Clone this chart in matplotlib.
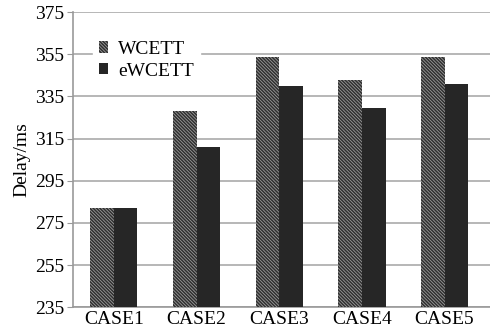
import numpy as np
import matplotlib.pyplot as plt

plt.rcParams['font.family'] = ['Liberation Serif', 'DejaVu Serif']
plt.rcParams['hatch.linewidth'] = 0.6

cases = ['CASE1', 'CASE2', 'CASE3', 'CASE4', 'CASE5']
wcett = [282, 328, 353.5, 343, 353.5]
ewcett = [282, 311, 340, 329.5, 341]
yticks = [235, 255, 275, 295, 315, 335, 355, 375]

fig = plt.figure(figsize=(4.9, 3.35), dpi=100)
ax = fig.add_axes([0.148, 0.083, 0.852, 0.881])

x = np.arange(len(cases))
w = 0.286
b1 = ax.bar(x - w / 2, wcett, w, color='#2e2e2e', edgecolor='#9a9a9a',
            hatch='\\' * 10, linewidth=0, label='WCETT', zorder=3)
b2 = ax.bar(x + w / 2, ewcett, w, color='#262626', linewidth=0,
            label='eWCETT', zorder=3)

ax.set_ylim(235, 375)
ax.set_xlim(-0.5, 4.55)
ax.set_yticks(yticks)
ax.set_xticks(x)
ax.set_xticklabels(cases)
ax.tick_params(axis='both', labelsize=14, color='#999999', length=4, pad=2)
ax.tick_params(axis='x', length=0, pad=3)
ax.grid(axis='y', color='#aaaaaa', linewidth=1.2, zorder=0)
for s in ['top', 'right']:
    ax.spines[s].set_visible(False)
for s in ['left', 'bottom']:
    ax.spines[s].set_color('#999999')
    ax.spines[s].set_linewidth(1.2)
ax.set_ylabel('Delay/ms', fontsize=14, labelpad=3)

leg = ax.legend(loc='upper left', bbox_to_anchor=(0.025, 0.955), fontsize=14,
                frameon=True, framealpha=1, edgecolor='white', fancybox=False,
                handlelength=0.5, handleheight=0.5, handletextpad=0.5,
                borderpad=0.3, labelspacing=0.25)
leg.set_zorder(5)

fig.savefig('out.png', dpi=100)
